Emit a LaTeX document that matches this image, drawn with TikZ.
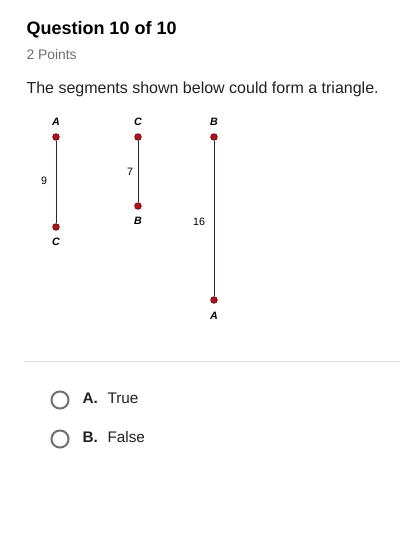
\documentclass[tikz,border=0pt]{standalone}
\usepackage{fontspec}
\setmainfont{Liberation Sans}
\definecolor{segline}{RGB}{58,22,92}
\definecolor{dotred}{RGB}{178,18,28}
\definecolor{dotrim}{RGB}{90,10,15}
\definecolor{radiogray}{RGB}{112,112,112}
\definecolor{subgray}{RGB}{110,110,110}
\definecolor{rulegray}{RGB}{225,225,225}
\definecolor{txt}{RGB}{33,33,33}
\tikzset{every picture/.style={line width=0.75pt}}

\begin{document}
\begin{tikzpicture}[x=0.75pt,y=0.75pt,yscale=-1,xscale=1,
  pt/.style={circle,draw=dotrim,fill=dotred,line width=0.5pt,inner sep=0pt,minimum size=5pt},
  ptlabel/.style={font=\fontsize{8}{9}\selectfont\bfseries\itshape},
  len/.style={font=\fontsize{8}{9}\selectfont},
  radio/.style={circle,draw=radiogray,line width=1.5pt,inner sep=0pt,minimum size=12.8pt},
  choice/.style={anchor=west,inner sep=0pt,text=txt,font=\fontsize{11.5}{13}\selectfont}]
\useasboundingbox (0,0) rectangle (400,552);

% Text Node
\node [anchor=base west,inner sep=0pt,font=\fontsize{13.5}{16}\selectfont\bfseries] (title) at (26,35) {Question 10 of 10};
% Text Node
\node [anchor=base west,inner sep=0pt,text=subgray,font=\fontsize{10.4}{12}\selectfont] (points) at (26,60) {2 Points};
% Text Node
\node [anchor=base west,inner sep=0pt,text=txt,font=\fontsize{12}{14}\selectfont] (stem) at (26,94) {The segments shown below could form a triangle.};

%Segment AC
\node [pt] (a1) at (56,137) {};
\node [pt] (c1) at (56,227) {};
\draw [segline] (a1) -- (c1) ;
\node [ptlabel] (la1) at (56,122) {A};
\node [ptlabel] (lc1) at (56,242) {C};
\node [len] (n9) at (44,181) {9};

%Segment CB
\node [pt] (c2) at (138,137) {};
\node [pt] (b2) at (138,206) {};
\draw [segline] (c2) -- (b2) ;
\node [ptlabel] (lc2) at (138,122) {C};
\node [ptlabel] (lb2) at (138,221) {B};
\node [len] (n7) at (130,172) {7};

%Segment BA
\node [pt] (b3) at (214,137) {};
\node [pt] (a3) at (214,300) {};
\draw [segline] (b3) -- (a3) ;
\node [ptlabel] (lb3) at (214,122) {B};
\node [ptlabel] (la3) at (214,316) {A};
\node [len] (n16) at (199,222) {16};

%Divider
\coordinate (divl) at (24,361);
\coordinate (divr) at (400,361);
\draw [rulegray] (divl) -- (divr) ;

%Choices
\node [radio] (ra) at (60,400) {};
\node [choice,font=\fontsize{11.5}{13}\selectfont\bfseries] (ka) at (82,398.5) {A.};
\node [choice] (ta) at (107,398.5) {True};
\node [radio] (rb) at (60,439) {};
\node [choice,font=\fontsize{11.5}{13}\selectfont\bfseries] (kb) at (82,437.5) {B.};
\node [choice] (tb) at (107,437.5) {False};

\end{tikzpicture}
\end{document}
